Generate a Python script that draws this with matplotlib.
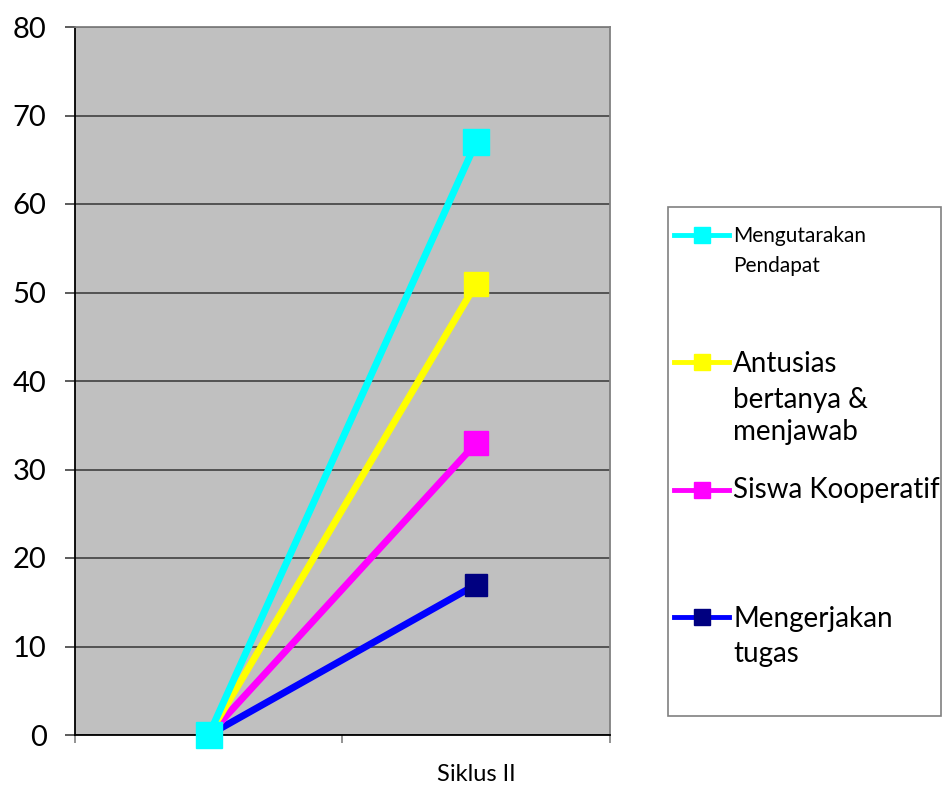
import matplotlib
matplotlib.use("Agg")
import matplotlib.pyplot as plt
from matplotlib.lines import Line2D
from matplotlib.patches import Rectangle

plt.rcParams['font.family'] = ['Lato', 'DejaVu Sans']

categories = ["", "Siklus II"]
series_names = ["Mengutarakan\nPendapat", "Antusias\nbertanya &\nmenjawab", "Siswa Kooperatif", "Mengerjakan\ntugas"]
series_values = [
    [0, 67],
    [0, 51],
    [0, 33],
    [0, 17],
]
line_colors = ["#00FFFF", "#FFFF00", "#FF00FF", "#0000FF"]
marker_colors = ["#00FFFF", "#FFFF00", "#FF00FF", "#000080"]
marker_sizes = [18.5, 17.5, 17.5, 16]
yticks = [0, 10, 20, 30, 40, 50, 60, 70, 80]

W, H = 943, 789
fig = plt.figure(figsize=(W / 100, H / 100), dpi=100)
ax = fig.add_axes([75 / W, 1 - 735 / H, (610 - 75) / W, (735 - 27) / H])
ax.set_facecolor("#C0C0C0")

xpos = [i + 0.5 for i in range(len(categories))]
order = [3, 2, 1, 0]
for z, i in enumerate(order):
    ax.plot(xpos, series_values[i], color=line_colors[i], lw=5, marker="s",
            ms=marker_sizes[i], mfc=marker_colors[i], mec=marker_colors[i],
            zorder=3 + z, solid_capstyle="butt", clip_on=False)

ax.set_xlim(0, len(categories))
ax.set_ylim(0, 80)
ax.set_yticks(yticks)
ax.set_yticklabels([str(v) for v in yticks])
ax.yaxis.grid(True, color="#404040", lw=1.2)
ax.set_axisbelow(True)

ax.set_xticks([0, 1, 2])
ax.set_xticklabels([])
ax.set_xticks(xpos, minor=True)
ax.set_xticklabels(categories, minor=True, fontsize=17)
ax.tick_params(axis="x", which="major", direction="out", length=6, color="#808080", width=1.2)
ax.tick_params(axis="x", which="minor", length=0, pad=21)
ax.tick_params(axis="y", direction="out", length=7.5, color="#404040", width=1.2,
               labelsize=21, pad=13)

for s in ["left", "bottom"]:
    ax.spines[s].set_color("#000000")
    ax.spines[s].set_linewidth(1.3)
for s in ["top", "right"]:
    ax.spines[s].set_color("#808080")
    ax.spines[s].set_linewidth(1.3)

# legend box
def fx(x):
    return x / W

def fy(y):
    return 1 - y / H

fig.patches.append(Rectangle((fx(668), fy(716)), fx(941) - fx(668), fy(207) - fy(716),
                             transform=fig.transFigure, facecolor="white",
                             edgecolor="#808080", lw=1.2, zorder=1))

leg_y = [235, 362, 490, 617]
leg_baselines = [[242, 272], [372, 408, 440], [498], [627, 662]]
leg_sizes = [15, 20, 20, 20]
for i in range(4):
    y = fy(leg_y[i])
    fig.add_artist(Line2D([fx(674), fx(729)], [y, y], transform=fig.transFigure,
                          color=line_colors[i], lw=3.5, zorder=2))
    fig.add_artist(Line2D([fx(702)], [y], transform=fig.transFigure, marker="s",
                          ms=12, mfc=marker_colors[i], mec=marker_colors[i], zorder=3))
    for line, b in zip(series_names[i].split("\n"), leg_baselines[i]):
        fig.text(fx(733), fy(b), line, fontsize=leg_sizes[i], va="baseline", ha="left",
                 color="black", zorder=3)

fig.savefig("out.png", dpi=100)
